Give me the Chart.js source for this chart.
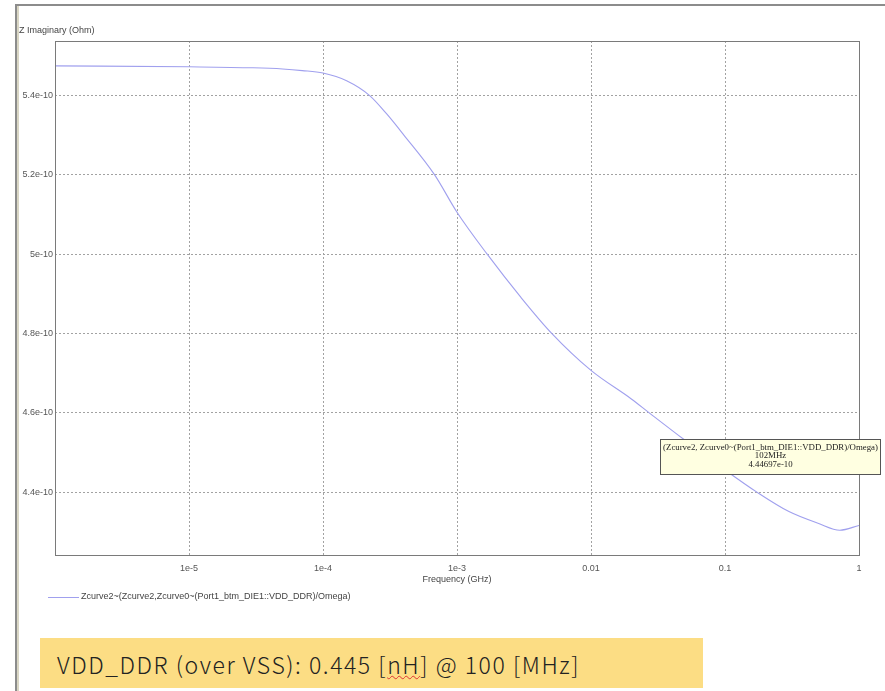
<!DOCTYPE html>
<html>
<head>
<meta charset="utf-8">
<script src="https://cdn.jsdelivr.net/npm/chart.js@4/dist/chart.umd.min.js"></script>
<style>
  html, body { margin: 0; padding: 0; background: #fff; }
  body { width: 885px; height: 691px; position: relative; overflow: hidden; }
  #frame {
    position: absolute; left: 15px; top: 4px; width: 868px; height: 700px;
    border-top: 2px solid #8c8c8c; border-left: 2px solid #8c8c8c;
    box-shadow: inset 2px 0 0 #d9d6c4;
    border-right: 1px solid #d6e2ee;
  }
  #note {
    position: absolute; left: 40px; top: 638px; width: 663px; height: 50px;
    background: #fcdd84;
    font-family: "Noto Sans CJK KR", "Noto Sans", sans-serif; font-weight: 300;
    font-size: 23px; letter-spacing: 1.55px; color: #222; line-height: 52px;
    padding-left: 17px; box-sizing: border-box;
  }
  #note .sq { text-decoration: underline wavy #d33; text-decoration-thickness: 1px; }
  canvas { position: absolute; left: 0; top: 0; }
</style>
</head>
<body>
<div id="frame"></div>
<div id="note">VDD_DDR (over VSS): 0.445 [<span class="sq">nH</span>] @ 100 [MHz]</div>
<canvas id="c" width="885" height="691"></canvas>
<script>
// frequency (GHz) and Z imaginary (Ohm)
const freqGHz = [1e-6, 1e-5, 3e-5, 5e-5, 7e-5, 1e-4, 1.5e-4, 2.23e-4, 3e-4, 4e-4, 6.81e-4, 1e-3,
  1.68e-3, 3e-3, 5.07e-3, 1e-2, 2e-2, 2.72e-2, 4.89e-2, 0.102, 0.173, 0.3, 0.5, 0.72, 1.0];
const zImag = [5.475e-10, 5.4725e-10, 5.470e-10, 5.467e-10, 5.463e-10, 5.4567e-10, 5.4373e-10,
  5.400e-10, 5.353e-10, 5.301e-10, 5.200e-10, 5.1058e-10, 5.000e-10, 4.891e-10, 4.801e-10,
  4.707e-10, 4.635e-10, 4.600e-10, 4.534e-10, 4.454e-10, 4.400e-10, 4.351e-10, 4.321e-10,
  4.304e-10, 4.316e-10];

const xTickValues = [1e-5, 1e-4, 1e-3, 1e-2, 1e-1, 1];
const xTickLabels = ["1e-5", "1e-4", "1e-3", "0.01", "0.1", "1"];
const yTickValues = [4.4e-10, 4.6e-10, 4.8e-10, 5e-10, 5.2e-10, 5.4e-10];
const yTickLabels = ["4.4e-10", "4.6e-10", "4.8e-10", "5e-10", "5.2e-10", "5.4e-10"];

const seriesName = "Zcurve2~(Zcurve2,Zcurve0~(Port1_btm_DIE1::VDD_DDR)/Omega)";
const marker = { f: 0.102, z: 4.44697e-10,
  lines: ["(Zcurve2, Zcurve0~(Port1_btm_DIE1::VDD_DDR)/Omega)", "102MHz", "4.44697e-10"] };

const lineColor = "rgb(160,160,238)";
const tickFont = { family: "Liberation Sans, Arial, sans-serif", size: 9 };

const extras = {
  id: "extras",
  afterDraw(chart) {
    const ctx = chart.ctx;
    const a = chart.chartArea;
    ctx.save();
    // plot frame
    ctx.strokeStyle = "#7a7a7a";
    ctx.lineWidth = 1;
    ctx.strokeRect(a.left + 0.5, a.top + 0.5, a.right - a.left, a.bottom - a.top);

    // axis title at top-left
    ctx.fillStyle = "#444";
    ctx.font = "9px Liberation Sans, Arial, sans-serif";
    ctx.textBaseline = "middle";
    ctx.textAlign = "left";
    ctx.fillText("Z Imaginary (Ohm)", 19, 31);

    // legend
    ctx.strokeStyle = lineColor;
    ctx.beginPath();
    ctx.moveTo(48, 597.5);
    ctx.lineTo(79, 597.5);
    ctx.stroke();
    ctx.fillStyle = "#444";
    ctx.fillText(seriesName, 81, 597);

    // marker tooltip
    const px = chart.scales.x.getPixelForValue(marker.f);
    const py = chart.scales.y.getPixelForValue(marker.z);
    const bx = Math.round(px - 66) + 0.5, by = Math.round(py - 35) + 0.5;
    const bw = 220, bh = 35;
    ctx.fillStyle = "#ffffe1";
    ctx.fillRect(bx, by, bw, bh);
    ctx.strokeStyle = "#555";
    ctx.strokeRect(bx, by, bw, bh);
    ctx.fillStyle = "#222";
    ctx.font = "8.8px Liberation Serif, Times New Roman, serif";
    ctx.textAlign = "center";
    marker.lines.forEach((t, i) => ctx.fillText(t, bx + bw / 2, by + 8 + i * 8.4));
    ctx.restore();
  }
};

new Chart(document.getElementById("c").getContext("2d"), {
  type: "line",
  data: {
    labels: freqGHz,
    datasets: [{
      label: seriesName,
      data: freqGHz.map((f, i) => ({ x: f, y: zImag[i] })),
      borderColor: lineColor,
      borderWidth: 1.1,
      pointRadius: 0,
      fill: false,
      cubicInterpolationMode: "monotone",
    }],
  },
  options: {
    responsive: false,
    animation: false,
    devicePixelRatio: 1,
    layout: { padding: { left: 0, top: 41, right: 26, bottom: 106 } },
    plugins: { legend: { display: false }, tooltip: { enabled: false }, title: { display: false } },
    scales: {
      x: {
        type: "logarithmic",
        min: 1e-6,
        max: 1,
        afterBuildTicks: (s) => { s.ticks = xTickValues.map((v) => ({ value: v })); },
        afterFit: (s) => { s.height = 30; },
        ticks: {
          autoSkip: false, maxRotation: 0, padding: 8, color: "#555", font: tickFont,
          callback: (v, i) => xTickLabels[i],
        },
        grid: { color: "#a2a2a2", drawTicks: false },
        border: { display: false, dash: [2, 2] },
        title: {
          display: true, text: "Frequency (GHz)", color: "#444", font: tickFont,
          padding: { top: 3, bottom: 0 },
        },
      },
      y: {
        min: 4.2415e-10,
        max: 5.5376e-10,
        afterBuildTicks: (s) => { s.ticks = yTickValues.map((v) => ({ value: v })); },
        afterFit: (s) => { s.width = 55; },
        ticks: {
          autoSkip: false, padding: 2, color: "#555", font: tickFont,
          callback: (v, i) => yTickLabels[i],
        },
        grid: { color: "#a2a2a2", drawTicks: false },
        border: { display: false, dash: [2, 2] },
      },
    },
  },
  plugins: [extras],
});
</script>
</body>
</html>
